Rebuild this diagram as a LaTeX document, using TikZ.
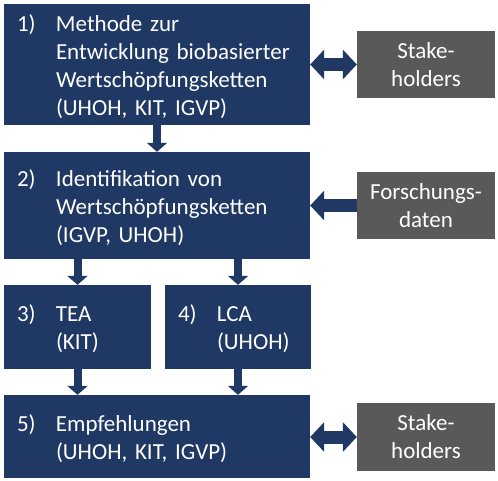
\documentclass[tikz,border=0pt]{standalone}
\usepackage{fontspec}
\setmainfont{Carlito}
\usetikzlibrary{arrows.meta}
\definecolor{dblue}{HTML}{1F3864}
\definecolor{dgrey}{HTML}{595959}
\begin{document}
\begin{tikzpicture}[x=1pt,y=-1pt,
  every node/.style={font=\fontsize{23}{28}\selectfont, text=white},
  bluebox/.style={fill=dblue, draw=none, inner xsep=13pt, inner ysep=0pt, anchor=center, align=left},
  greybox/.style={fill=dgrey, draw=none, inner sep=0pt, anchor=center, align=center, minimum width=138pt},
  downarrow/.style={draw=dblue, line width=8pt, -{Triangle[width=20pt,length=9pt]}},
  sidearrow/.style={draw=dblue, line width=13pt, -{Triangle[width=29pt,length=14pt]}},
  bothway/.style={draw=dblue, line width=13pt, {Triangle[width=29pt,length=14pt]}-{Triangle[width=29pt,length=14pt]}}
]
\useasboundingbox (0,0) rectangle (498,480);
\fill[white] (0,0) rectangle (498,480);
\newcommand{\numrow}[2]{\raisebox{-3pt}[\height][\depth]{\begin{tabular}{@{}p{39pt}@{}l@{}}#1 & #2\end{tabular}}}

\node[bluebox, minimum width=306pt, minimum height=121pt, text width=280pt] (b1) at (157,64.5)
  {\numrow{1)}{Methode zur\\ & Entwicklung biobasierter\\ & Wertschöpfungsketten\\ & (UHOH, KIT, IGVP)}};
\node[bluebox, minimum width=306pt, minimum height=107pt, text width=280pt] (b2) at (157,205.5)
  {\numrow{2)}{Identifikation von\\ & Wertschöpfungsketten\\ & (IGVP, UHOH)}};
\node[bluebox, minimum width=147pt, minimum height=84pt, text width=121pt] (b3) at (77.5,327)
  {\numrow{3)}{TEA\\ & (KIT)}};
\node[bluebox, minimum width=146pt, minimum height=84pt, text width=120pt] (b4) at (238,327)
  {\numrow{4)}{LCA\\ & (UHOH)}};
\node[bluebox, minimum width=306pt, minimum height=83pt, text width=280pt] (b5) at (157,436.5)
  {\numrow{5)}{Empfehlungen\\ & (UHOH, KIT, IGVP)}};

\node[greybox, minimum height=67pt] (s1) at (426,64.5) {Stake-\\holders};
\node[greybox, minimum height=67pt] (fd) at (426,205.5) {Forschungs-\\daten};
\node[greybox, minimum height=68pt] (s2) at (426,437) {Stake-\\holders};

\draw[downarrow] (b1.south) -- (b2.north);
\draw[downarrow] (b3.north |- b2.south) -- (b3.north);
\draw[downarrow] (b4.north |- b2.south) -- (b4.north);
\draw[downarrow] (b3.south) -- (b3.south |- b5.north);
\draw[downarrow] (b4.south) -- (b4.south |- b5.north);

\draw[bothway] (b1.east) -- (s1.west);
\draw[sidearrow] (fd.west) -- (b2.east);
\draw[bothway] (b5.east |- s2.west) -- (s2.west);
\end{tikzpicture}
\end{document}
